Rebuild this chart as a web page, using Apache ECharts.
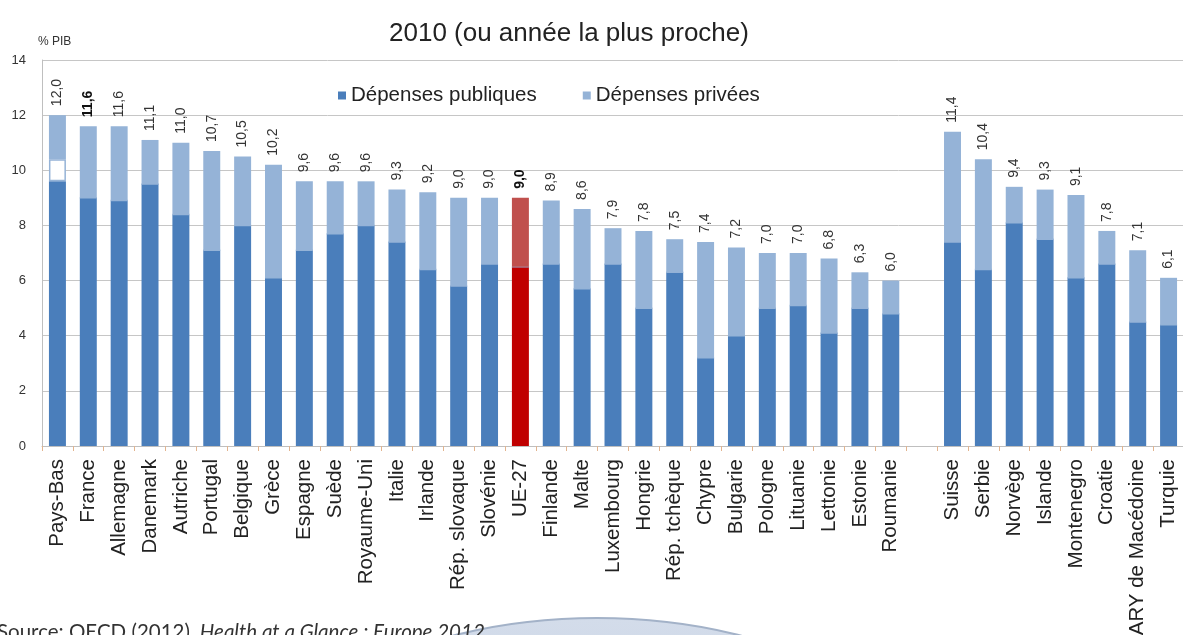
<!DOCTYPE html>
<html>
<head>
<meta charset="utf-8">
<script src="https://cdn.jsdelivr.net/npm/echarts@6/dist/echarts.min.js"></script>
<style>
  html, body { margin: 0; padding: 0; background: #fff; }
  #chart { width: 1183px; height: 635px; }
</style>
</head>
<body>
<div id="chart"></div>
<script>
// Dépenses de santé en % du PIB, 2010 (ou année la plus proche)
const categories = ['Pays-Bas', 'France', 'Allemagne', 'Danemark', 'Autriche', 'Portugal', 'Belgique', 'Grèce',
  'Espagne', 'Suède', 'Royaume-Uni', 'Italie', 'Irlande', 'Rép. slovaque', 'Slovénie', 'UE-27', 'Finlande',
  'Malte', 'Luxembourg', 'Hongrie', 'Rép. tchèque', 'Chypre', 'Bulgarie', 'Pologne', 'Lituanie', 'Lettonie',
  'Estonie', 'Roumanie', '', 'Suisse', 'Serbie', 'Norvège', 'Islande', 'Montenegro', 'Croatie',
  'ARY de Macédoine', 'Turquie'];

// Dépenses totales (valeur affichée au-dessus de chaque barre)
const totals = [12.0, 11.6, 11.6, 11.1, 11.0, 10.7, 10.5, 10.2, 9.6, 9.6, 9.6, 9.3, 9.2, 9.0, 9.0, 9.0, 8.9,
  8.6, 7.9, 7.8, 7.5, 7.4, 7.2, 7.0, 7.0, 6.8, 6.3, 6.0, null, 11.4, 10.4, 9.4, 9.3, 9.1, 7.8, 7.1, 6.1];

// Dépenses publiques
const publicSpending = [9.6, 9.0, 8.9, 9.5, 8.4, 7.1, 8.0, 6.1, 7.1, 7.7, 8.0, 7.4, 6.4, 5.8, 6.6, 6.5, 6.6,
  5.7, 6.6, 5.0, 6.3, 3.2, 4.0, 5.0, 5.1, 4.1, 5.0, 4.8, null, 7.4, 6.4, 8.1, 7.5, 6.1, 6.6, 4.5, 4.4];

// Part non ventilée (Pays-Bas uniquement)
const unallocated = [0.8, 0, 0, 0, 0, 0, 0, 0, 0, 0, 0, 0, 0, 0, 0, 0, 0,
  0, 0, 0, 0, 0, 0, 0, 0, 0, 0, 0, null, 0, 0, 0, 0, 0, 0, 0, 0];

const legendNames = ['Dépenses publiques', 'Dépenses privées'];
const boldLabels = ['France', 'UE-27'];
const highlighted = 'UE-27';

const FONT = '"Liberation Sans", Arial, sans-serif';
const C_PUB = '#4a7ebb', C_PRIV = '#95b3d7';
const C_PUB_HI = '#c00000', C_PRIV_HI = '#c0504d';

// Dépenses privées = total - publiques - non ventilé
const privateSpending = totals.map((t, i) =>
  t == null ? null : Math.round((t - publicSpending[i] - unallocated[i]) * 10) / 10);

const fmt = v => v.toFixed(1).replace('.', ',');

const publicData = publicSpending.map((v, i) => {
  if (v == null) return '-';
  const item = { value: v };
  if (categories[i] === highlighted) item.itemStyle = { color: C_PUB_HI };
  return item;
});

const unallocatedData = unallocated.map(v => (v == null ? '-' : v));

const privateData = privateSpending.map((v, i) => {
  if (v == null) return '-';
  const item = { value: v };
  if (categories[i] === highlighted) item.itemStyle = { color: C_PRIV_HI };
  if (boldLabels.includes(categories[i])) item.label = { fontWeight: 'bold', color: '#111' };
  return item;
});

const chart = echarts.init(document.getElementById('chart'), null, { renderer: 'canvas' });

chart.setOption({
  animation: false,
  backgroundColor: '#fff',
  textStyle: { fontFamily: FONT },
  title: {
    text: '2010 (ou année la plus proche)',
    left: 384, top: 16,
    textStyle: { fontSize: 26, fontWeight: 'normal', color: '#222', fontFamily: FONT }
  },
  legend: {
    data: [
      { name: legendNames[0], itemStyle: { color: C_PUB } },
      { name: legendNames[1], itemStyle: { color: C_PRIV } }
    ],
    left: 333, top: 80,
    icon: 'rect', itemWidth: 8, itemHeight: 8, itemGap: 46,
    textStyle: { fontSize: 20.5, color: '#222', fontFamily: FONT }
  },
  grid: { left: 42, right: -1, top: 60, bottom: 189, containLabel: false, outerBoundsMode: 'none' },
  xAxis: {
    type: 'category',
    data: categories,
    axisLine: { lineStyle: { color: '#bfbfbf', width: 1 } },
    axisTick: { show: true, length: 5, lineStyle: { color: '#e2b48f' } },
    axisLabel: { rotate: 90, interval: 0, fontSize: 20.5, color: '#222', margin: 13, fontFamily: FONT }
  },
  yAxis: {
    type: 'value',
    min: 0, max: 14, interval: 2,
    name: '% PIB',
    nameGap: 12,
    nameTextStyle: { fontSize: 12, color: '#333', align: 'left', padding: [0, 0, 0, -4], fontFamily: FONT },
    axisLine: { show: true, lineStyle: { color: '#bfbfbf' } },
    axisTick: { show: false },
    axisLabel: { fontSize: 13, color: '#333', margin: 16, fontFamily: FONT },
    splitLine: { lineStyle: { color: '#c6c6c6', width: 1 } }
  },
  series: [
    {
      name: legendNames[0],
      type: 'bar', stack: 'total', barWidth: '55%',
      itemStyle: { color: C_PUB },
      data: publicData
    },
    {
      name: 'Non ventilé',
      type: 'bar', stack: 'total', barWidth: '55%',
      itemStyle: { color: '#ffffff', borderColor: C_PRIV, borderWidth: 1.5 },
      data: unallocatedData
    },
    {
      name: legendNames[1],
      type: 'bar', stack: 'total', barWidth: '55%',
      itemStyle: { color: C_PRIV },
      label: {
        show: true, position: 'top', rotate: 90, align: 'left', verticalAlign: 'middle',
        distance: 9, fontSize: 14, color: '#333', fontFamily: FONT,
        formatter: p => fmt(totals[p.dataIndex])
      },
      data: privateData
    }
  ],
  graphic: [
    {
      type: 'ellipse',
      shape: { cx: 597, cy: 818, rx: 350, ry: 200 },
      style: {
        fill: {
          type: 'linear', x: 0, y: 0, x2: 0, y2: 1,
          colorStops: [{ offset: 0, color: '#d3dcea' }, { offset: 1, color: '#bccadf' }]
        },
        stroke: '#a3b2c8', lineWidth: 2
      },
      z: 1
    },
    {
      type: 'text',
      left: -3, top: 622,
      style: {
        text: '{n|Source: OECD (2012), }{i|Health at a Glance : Europe 2012}',
        rich: {
          n: { fontSize: 20.5, fill: '#333', fontFamily: 'Lato, "Open Sans", sans-serif' },
          i: { fontSize: 20.5, fill: '#333', fontStyle: 'italic', fontFamily: 'Lato, "Open Sans", sans-serif' }
        }
      },
      z: 2
    }
  ]
});
</script>
</body>
</html>
